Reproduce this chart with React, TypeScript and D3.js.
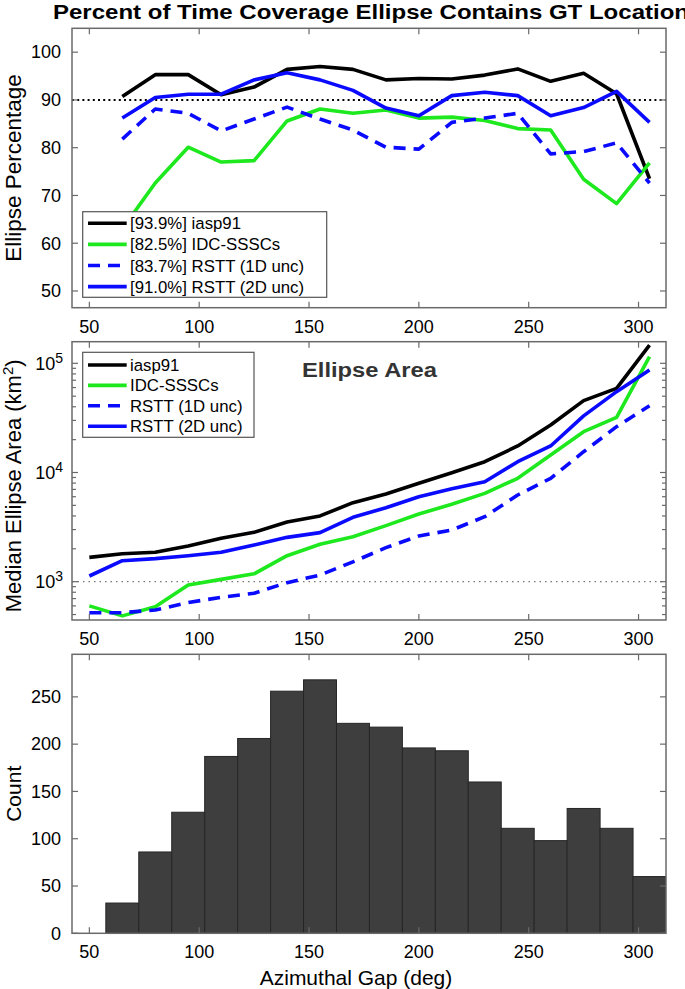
import React from "react";
import * as d3 from "d3";

// ---------- data ----------
const gapPct = [65, 80, 95, 110, 125, 140, 155, 170, 185, 200, 215, 230, 245, 260, 275, 290, 305];
const iasp91Pct = [90.7, 95.3, 95.3, 91.1, 92.7, 96.4, 97.0, 96.4, 94.2, 94.5, 94.4, 95.2, 96.5, 93.9, 95.6, 91.3, 73.5];
const idcPct = [63.0, 72.6, 80.1, 77.0, 77.3, 85.6, 88.1, 87.2, 87.9, 86.2, 86.4, 85.7, 84.0, 83.7, 73.4, 68.3, 76.8];
const rstt1Pct = [81.8, 88.1, 87.2, 83.5, 86.0, 88.5, 86.0, 83.7, 80.1, 79.7, 85.3, 86.2, 87.2, 78.7, 79.2, 81.0, 72.6];
const rstt2Pct = [86.2, 90.5, 91.2, 91.2, 94.2, 95.7, 94.2, 92.0, 88.3, 86.7, 90.9, 91.6, 90.9, 86.7, 88.4, 91.8, 85.3];

const gapArea = [50, 65, 80, 95, 110, 125, 140, 155, 170, 185, 200, 215, 230, 245, 260, 275, 290, 305];
const iasp91Area = [1670, 1800, 1860, 2120, 2500, 2830, 3520, 4000, 5290, 6350, 7960, 9950, 12560, 17500, 27200, 45500, 59000, 147000];
const idcArea = [600, 486, 590, 933, 1050, 1180, 1730, 2200, 2580, 3260, 4170, 5120, 6440, 8850, 14450, 23650, 32000, 115000];
const rstt1Area = [520, 520, 551, 643, 720, 783, 980, 1150, 1520, 2050, 2620, 2975, 3940, 6220, 8850, 15500, 26300, 40900];
const rstt2Area = [1127, 1556, 1626, 1730, 1858, 2168, 2546, 2812, 3890, 4760, 6000, 7110, 8240, 12560, 17500, 33000, 55000, 86900];

const binCenters = [65, 80, 95, 110, 125, 140, 155, 170, 185, 200, 215, 230, 245, 260, 275, 290, 305];
const binWidth = 15;
const counts = [32, 86, 128, 187, 206, 256, 268, 222, 218, 196, 193, 160, 111, 98, 132, 111, 60];

const xTicks = [50, 100, 150, 200, 250, 300];
const pctTicks = [50, 60, 70, 80, 90, 100];
const areaMajor = [1000, 10000, 100000];
const areaMinor = [500, 600, 700, 800, 900, 2000, 3000, 4000, 5000, 6000, 7000, 8000, 9000, 20000, 30000, 40000, 50000, 60000, 70000, 80000, 90000];
const countTicks = [0, 50, 100, 150, 200, 250];

const pctLegend = ["[93.9%] iasp91", "[82.5%] IDC-SSSCs", "[83.7%] RSTT (1D unc)", "[91.0%] RSTT (2D unc)"];
const areaLegend = ["iasp91", "IDC-SSSCs", "RSTT (1D unc)", "RSTT (2D unc)"];

// ---------- styles ----------
const FONT = "'Liberation Sans', Arial, Helvetica, sans-serif";
const seriesStyle = [
  { color: "#000000", dash: undefined as string | undefined },
  { color: "#1ee81e", dash: undefined as string | undefined },
  { color: "#0a0aff", dash: "12,8" },
  { color: "#0a0aff", dash: undefined as string | undefined },
];
const AX = "#6a6a6a";

const W = 685, H = 989;
const L = 72, R = 666;
const P1 = { top: 28.3, bottom: 307.7 };
const P2 = { top: 341.7, bottom: 620 };
const P3 = { top: 654.3, bottom: 933.3 };

const x = d3.scaleLinear().domain([42.1, 312.5]).range([L, R]);
const y1 = d3.scaleLinear().domain([46.5, 105]).range([P1.bottom, P1.top]);
const y2 = d3.scaleLog().domain([445.6, 157800]).range([P2.bottom, P2.top]);
const y3 = d3.scaleLinear().domain([0, 295]).range([P3.bottom, P3.top]);

function XTicks({ top, bottom, labels }: { top: number; bottom: number; labels: boolean }) {
  return (
    <g>
      {xTicks.map((t) => (
        <g key={t}>
          <line x1={x(t)} x2={x(t)} y1={bottom} y2={bottom - 6} stroke={AX} strokeWidth={1.2} />
          <line x1={x(t)} x2={x(t)} y1={top} y2={top + 6} stroke={AX} strokeWidth={1.2} />
          {labels && (
            <text x={x(t)} y={bottom + 18.7} dy="0.35em" textAnchor="middle" fontSize={18} fontFamily={FONT}>
              {t}
            </text>
          )}
        </g>
      ))}
    </g>
  );
}

function YTicks({ scale, ticks, len = 6 }: { scale: (v: number) => number; ticks: number[]; len?: number }) {
  return (
    <g>
      {ticks.map((t) => (
        <g key={t}>
          <line x1={L} x2={L + len} y1={scale(t)} y2={scale(t)} stroke={AX} strokeWidth={1.2} />
          <line x1={R} x2={R - len} y1={scale(t)} y2={scale(t)} stroke={AX} strokeWidth={1.2} />
        </g>
      ))}
    </g>
  );
}

function Box({ top, bottom }: { top: number; bottom: number }) {
  return <rect x={L} y={top} width={R - L} height={bottom - top} fill="none" stroke={AX} strokeWidth={1.5} />;
}

export default function App() {
  const pctSeries = [iasp91Pct, idcPct, rstt1Pct, rstt2Pct];
  const areaSeries = [iasp91Area, idcArea, rstt1Area, rstt2Area];

  const line1 = d3
    .line<[number, number]>()
    .x((d) => x(d[0]))
    .y((d) => y1(d[1]));
  const line2 = d3
    .line<[number, number]>()
    .x((d) => x(d[0]))
    .y((d) => y2(d[1]));

  return (
    <svg
      width={W}
      height={H}
      style={{ position: "absolute", left: 0, top: 0, background: "#fff" }}
      fontFamily={FONT}
    >
      <defs>
        <clipPath id="c1">
          <rect x={L} y={P1.top} width={R - L} height={P1.bottom - P1.top} />
        </clipPath>
        <clipPath id="c2">
          <rect x={L} y={P2.top} width={R - L} height={P2.bottom - P2.top} />
        </clipPath>
        <clipPath id="c3">
          <rect x={L} y={P3.top} width={R - L} height={P3.bottom - P3.top} />
        </clipPath>
      </defs>
      <rect x={0} y={0} width={W} height={H} fill="#fff" />

      {/* Title */}
      <text x={53} y={18.5} fontSize={21} fontWeight="bold" textLength={636} lengthAdjust="spacingAndGlyphs">
        Percent of Time Coverage Ellipse Contains GT Location
      </text>

      {/* ---------- Panel 1 ---------- */}
      <g>
        <line x1={L} x2={R} y1={y1(90)} y2={y1(90)} stroke="#000" strokeWidth={2} strokeDasharray="2,3.2" />
        <g clipPath="url(#c1)">
          {pctSeries.map((s, i) => (
            <path
              key={i}
              d={line1(gapPct.map((g, j) => [g, s[j]] as [number, number])) || ""}
              fill="none"
              stroke={seriesStyle[i].color}
              strokeWidth={3.6}
              strokeDasharray={seriesStyle[i].dash}
              strokeLinejoin="round"
            />
          ))}
        </g>
        <XTicks top={P1.top} bottom={P1.bottom} labels={true} />
        <YTicks scale={y1} ticks={pctTicks} />
        {pctTicks.map((t) => (
          <text key={t} x={61} y={y1(t)} dy="0.35em" textAnchor="end" fontSize={18}>
            {t}
          </text>
        ))}
        <Box top={P1.top} bottom={P1.bottom} />
        <text transform={`translate(21,${(P1.top + P1.bottom) / 2}) rotate(-90)`} textAnchor="middle" fontSize={22.5}>
          Ellipse Percentage
        </text>
        {/* legend */}
        <rect x={82.7} y={211.7} width={244} height={85.6} fill="#fff" stroke="#555" strokeWidth={1.2} />
        {pctLegend.map((lab, i) => {
          const yy = 223.3 + i * 21.1;
          return (
            <g key={lab}>
              <line x1={88} x2={126.7} y1={yy} y2={yy} stroke={seriesStyle[i].color} strokeWidth={3.6} strokeDasharray={seriesStyle[i].dash} />
              <text x={130} y={yy} dy="0.36em" fontSize={16.8}>
                {lab}
              </text>
            </g>
          );
        })}
      </g>

      {/* ---------- Panel 2 ---------- */}
      <g>
        <line x1={L} x2={R} y1={y2(1000)} y2={y2(1000)} stroke="#777" strokeWidth={1.3} strokeDasharray="1.5,4" />
        <g clipPath="url(#c2)">
          {areaSeries.map((s, i) => (
            <path
              key={i}
              d={line2(gapArea.map((g, j) => [g, s[j]] as [number, number])) || ""}
              fill="none"
              stroke={seriesStyle[i].color}
              strokeWidth={3.6}
              strokeDasharray={seriesStyle[i].dash}
              strokeLinejoin="round"
            />
          ))}
        </g>
        <XTicks top={P2.top} bottom={P2.bottom} labels={true} />
        <YTicks scale={y2} ticks={areaMajor} len={6} />
        <YTicks scale={y2} ticks={areaMinor} len={4} />
        {areaMajor.map((t) => (
          <text key={t} x={63} y={y2(t)} dy="0.35em" textAnchor="end" fontSize={18}>
            10
            <tspan dy={-7} fontSize={14}>
              {Math.round(Math.log10(t))}
            </tspan>
          </text>
        ))}
        <Box top={P2.top} bottom={P2.bottom} />
        <text transform={`translate(21,${(P2.top + P2.bottom) / 2 + 5}) rotate(-90)`} textAnchor="middle" fontSize={22}>
          Median Ellipse Area (km
          <tspan dy={-8} fontSize={15}>2</tspan>
          <tspan dy={8}>)</tspan>
        </text>
        <text x={302} y={370} dy="0.35em" fontSize={20} fontWeight="bold" fill="#333" textLength={135} lengthAdjust="spacingAndGlyphs">
          Ellipse Area
        </text>
        {/* legend */}
        <rect x={82.7} y={352.3} width={171.3} height={85} fill="#fff" stroke="#555" strokeWidth={1.2} />
        {areaLegend.map((lab, i) => {
          const yy = 365 + i * 20.4;
          return (
            <g key={lab}>
              <line x1={88} x2={126.7} y1={yy} y2={yy} stroke={seriesStyle[i].color} strokeWidth={3.6} strokeDasharray={seriesStyle[i].dash} />
              <text x={130} y={yy} dy="0.36em" fontSize={16.8}>
                {lab}
              </text>
            </g>
          );
        })}
      </g>

      {/* ---------- Panel 3 ---------- */}
      <g>
        <g clipPath="url(#c3)">
          {binCenters.map((c, i) => (
            <rect
              key={c}
              x={x(c - binWidth / 2)}
              y={y3(counts[i])}
              width={x(c + binWidth / 2) - x(c - binWidth / 2)}
              height={y3(0) - y3(counts[i])}
              fill="#3e3e3e"
              stroke="#262626"
              strokeWidth={1}
            />
          ))}
        </g>
        <XTicks top={P3.top} bottom={P3.bottom} labels={true} />
        <YTicks scale={y3} ticks={countTicks} />
        {countTicks.map((t) => (
          <text key={t} x={61} y={y3(t)} dy="0.35em" textAnchor="end" fontSize={18}>
            {t}
          </text>
        ))}
        <Box top={P3.top} bottom={P3.bottom} />
        <text transform={`translate(21,${(P3.top + P3.bottom) / 2}) rotate(-90)`} textAnchor="middle" fontSize={21}>
          Count
        </text>
        <text x={356} y={985} textAnchor="middle" fontSize={21}>
          Azimuthal Gap (deg)
        </text>
      </g>
    </svg>
  );
}
